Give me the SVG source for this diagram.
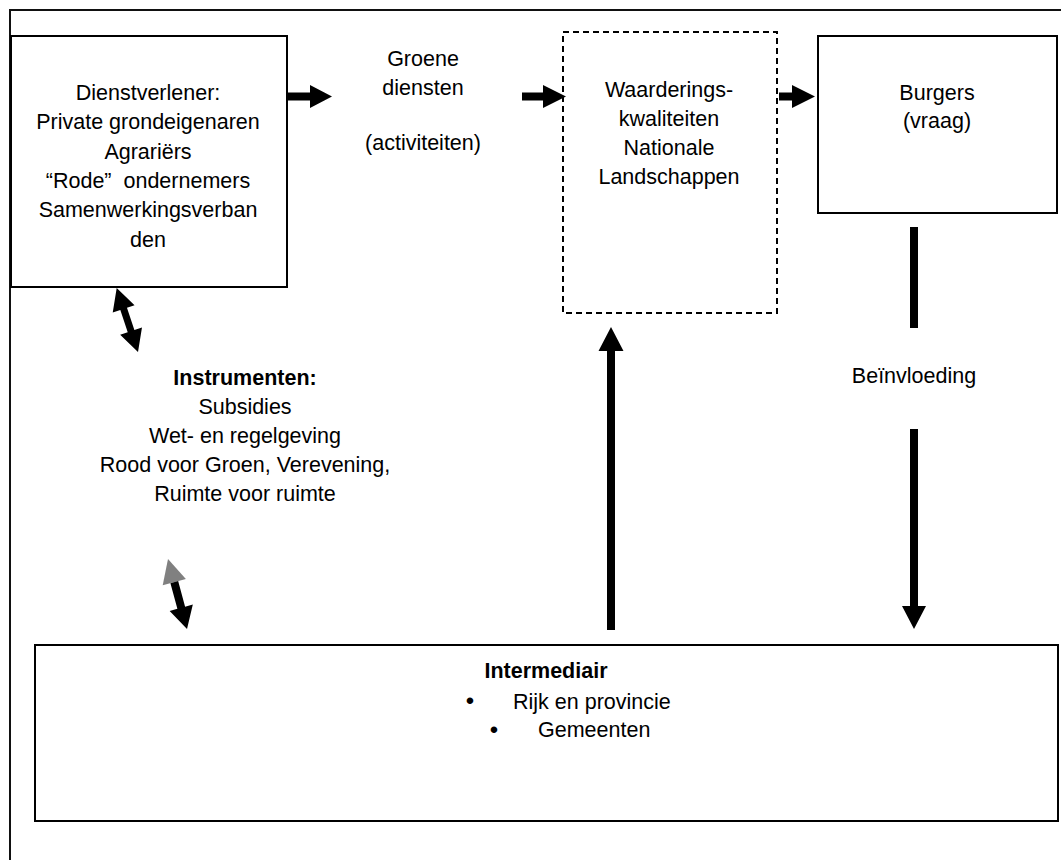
<svg xmlns="http://www.w3.org/2000/svg" width="1061" height="860" viewBox="0 0 1061 860">
  <style>
    .t { font-family: "Liberation Sans", Arial, sans-serif; font-size: 21.5px; fill: #000; text-anchor: middle; }
    .b { font-weight: bold; }
    .box { fill: #fff; stroke: #000; stroke-width: 2; }
    .dash { fill: #fff; stroke: #000; stroke-width: 2; stroke-dasharray: 6 4; }
    .arr { fill: #000; stroke: none; }
  </style>
  <rect width="1061" height="860" fill="#fff"/>
  <path id="frame" d="M10,860 V10 H1061" fill="none" stroke="#111" stroke-width="2"/>

  <g id="dienstverlener">
    <rect class="box" x="11" y="36" width="276" height="251"/>
    <text class="t" x="148" y="100">Dienstverlener:</text>
    <text class="t" x="148" y="129.3">Private grondeigenaren</text>
    <text class="t" x="148" y="158.7">Agrariërs</text>
    <text class="t" x="148" y="188">“Rode”&#160; ondernemers</text>
    <text class="t" x="148" y="217.3">Samenwerkingsverban</text>
    <text class="t" x="148" y="246.7">den</text>
  </g>

  <g id="groene-diensten">
    <text class="t" x="423" y="66">Groene</text>
    <text class="t" x="423" y="95">diensten</text>
    <text class="t" x="423" y="150">(activiteiten)</text>
  </g>

  <g id="waarderingskwaliteiten">
    <rect class="dash" x="563" y="32" width="214" height="281"/>
    <text class="t" x="669" y="96.5">Waarderings-</text>
    <text class="t" x="669" y="125.7">kwaliteiten</text>
    <text class="t" x="669" y="155">Nationale</text>
    <text class="t" x="669" y="184.3">Landschappen</text>
  </g>

  <g id="burgers">
    <rect class="box" x="818" y="36" width="239" height="177"/>
    <text class="t" x="937" y="100">Burgers</text>
    <text class="t" x="937" y="128">(vraag)</text>
  </g>

  <g id="beinvloeding">
    <text class="t" x="914" y="383">Beïnvloeding</text>
  </g>

  <g id="instrumenten">
    <text class="t b" x="245" y="385">Instrumenten:</text>
    <text class="t" x="245" y="414">Subsidies</text>
    <text class="t" x="245" y="443">Wet- en regelgeving</text>
    <text class="t" x="245" y="472">Rood voor Groen, Verevening,</text>
    <text class="t" x="245" y="501">Ruimte voor ruimte</text>
  </g>

  <g id="intermediair">
    <rect class="box" x="35" y="645" width="1023" height="176"/>
    <text class="t b" x="546" y="678">Intermediair</text>
    <text class="t" x="470" y="709" style="font-size:24px">•</text>
    <text class="t" x="513" y="709" style="text-anchor:start">Rijk en provincie</text>
    <text class="t" x="494" y="738" style="font-size:24px">•</text>
    <text class="t" x="538" y="737" style="text-anchor:start">Gemeenten</text>
  </g>

  <g id="connectors">
    <path class="arr" d="M287,92.5 H310 V85 L332,96.5 L310,108 V100.5 H287 Z"/>
    <path class="arr" d="M522,92.5 H543 V85 L566,96.5 L543,108 V100.5 H522 Z"/>
    <path class="arr" d="M779,92.5 H792 V85 L815,96.5 L792,108 V100.5 H779 Z"/>
    <rect class="arr" x="910" y="227" width="8" height="101"/>
    <path class="arr" d="M910,429 H918 V606 H926 L914,629 L902,606 H910 Z"/>
    <path class="arr" d="M607,630 V351 H598.5 L611,327 L623.5,351 H615 V630 Z"/>
    <g transform="translate(116.7,288) rotate(71.6)">
      <polygon class="arr" points="0,0 22,-11.5 22,-3.5 45.5,-3.5 45.5,-11.5 67.5,0 45.5,11.5 45.5,3.5 22,3.5 22,11.5"/>
    </g>
    <g transform="translate(168,559) rotate(74.8)">
      <polygon points="0,0 24,12 24,-12" fill="#808080"/>
      <polygon class="arr" points="24,-4 50.5,-4 50.5,-12 72.5,0 50.5,12 50.5,4 24,4"/>
    </g>
  </g>
</svg>
